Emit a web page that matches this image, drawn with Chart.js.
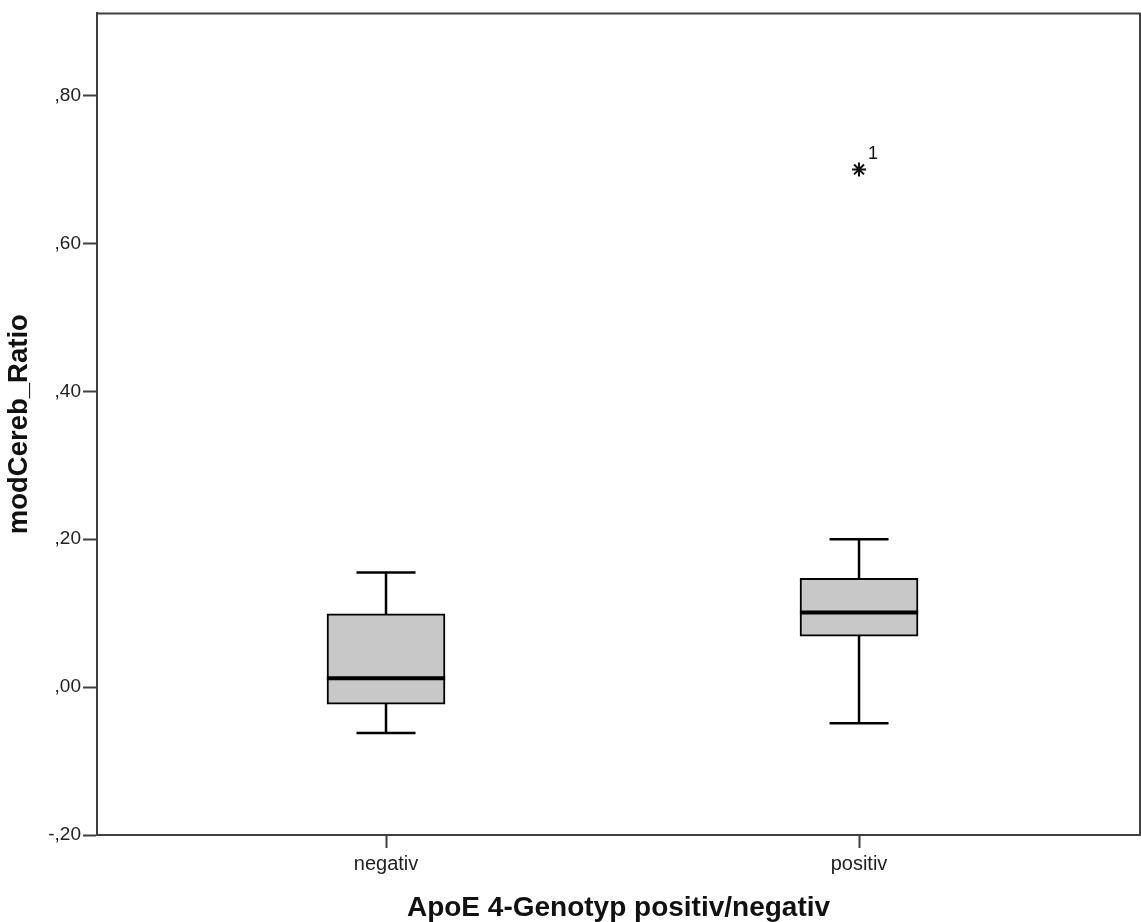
<!DOCTYPE html>
<html>
<head>
<meta charset="utf-8">
<title>modCereb_Ratio nach ApoE 4-Genotyp</title>
<script src="https://cdn.jsdelivr.net/npm/chart.js@4.4.1/dist/chart.umd.min.js"></script>
<style>
  html, body { margin: 0; padding: 0; background: #ffffff; }
  #wrap { width: 1141px; height: 922px; }
</style>
</head>
<body>
<div id="wrap"><canvas id="chart" width="1141" height="922"></canvas></div>
<script>
// Five-number summaries per genotype group
const categories  = ['negativ', 'positiv'];
const whiskerLow  = [-0.062, -0.049];
const quartile1   = [-0.023,  0.069];
const medians     = [ 0.012,  0.101];
const quartile3   = [ 0.099,  0.147];
const whiskerHigh = [ 0.155,  0.200];

// Extreme values (group index, value, case number)
const extremeGroup = [1];
const extremeValue = [0.70];
const extremeCase  = ['1'];

const yTickValues = [-0.2, 0, 0.2, 0.4, 0.6, 0.8];

const BOX_HALF = 0.125;   // half box width in category units
const CAP_HALF = 0.0624;  // half whisker-cap width in category units

// Whisker stems and caps as one broken line (null y breaks the path)
const whiskerPoints = [];
categories.forEach((c, i) => {
  whiskerPoints.push(
    { x: i, y: quartile3[i] }, { x: i, y: whiskerHigh[i] }, { x: i, y: null },
    { x: i - CAP_HALF, y: whiskerHigh[i] }, { x: i + CAP_HALF, y: whiskerHigh[i] }, { x: i, y: null },
    { x: i, y: quartile1[i] }, { x: i, y: whiskerLow[i] }, { x: i, y: null },
    { x: i - CAP_HALF, y: whiskerLow[i] }, { x: i + CAP_HALF, y: whiskerLow[i] }, { x: i, y: null }
  );
});

const medianPoints = [];
categories.forEach((c, i) => {
  medianPoints.push(
    { x: i - BOX_HALF, y: medians[i] }, { x: i + BOX_HALF, y: medians[i] }, { x: i, y: null }
  );
});

const boxData = categories.map((c, i) => ({ x: i, y: [quartile1[i], quartile3[i]] }));
const extremeData = extremeGroup.map((g, i) => ({ x: g, y: extremeValue[i] }));

// Comma decimal style without leading zero: ,80  ,00  -,20
function fmtTick(v) {
  const s = Math.abs(v).toFixed(2).replace(/^0\./, ',');
  return (v < -1e-9 ? '-' : '') + s;
}

const framePlugin = {
  id: 'frameAndCases',
  afterDatasetsDraw(chart) {
    const { ctx, chartArea: { left, top, right, bottom } } = chart;
    ctx.save();
    ctx.strokeStyle = '#404040';
    ctx.lineWidth = 2;
    ctx.beginPath();
    ctx.moveTo(left, top);
    ctx.lineTo(right, top);
    ctx.lineTo(right, bottom);
    ctx.stroke();

    const meta = chart.getDatasetMeta(3);
    ctx.fillStyle = '#111111';
    ctx.font = '18px "Liberation Sans", Arial, sans-serif';
    ctx.textAlign = 'center';
    ctx.textBaseline = 'middle';
    meta.data.forEach((pt, i) => {
      ctx.fillText(extremeCase[i], pt.x + 14, pt.y - 15);
    });
    ctx.restore();
  }
};

new Chart(document.getElementById('chart'), {
  type: 'scatter',
  data: {
    datasets: [
      {
        type: 'bar',
        data: boxData,
        backgroundColor: '#c8c8c8',
        borderColor: '#000000',
        borderWidth: 2,
        borderSkipped: false,
        barThickness: 118,
        grouped: false,
        order: 3
      },
      {
        type: 'line',
        data: whiskerPoints,
        borderColor: '#000000',
        borderWidth: 2.5,
        borderCapStyle: 'butt',
        pointRadius: 0,
        spanGaps: false,
        tension: 0,
        order: 2
      },
      {
        type: 'line',
        data: medianPoints,
        borderColor: '#000000',
        borderWidth: 4,
        borderCapStyle: 'butt',
        pointRadius: 0,
        spanGaps: false,
        tension: 0,
        order: 1
      },
      {
        type: 'scatter',
        data: extremeData,
        pointStyle: 'star',
        radius: 7,
        borderColor: '#111111',
        borderWidth: 2,
        backgroundColor: '#111111',
        order: 0
      }
    ]
  },
  options: {
    responsive: false,
    animation: false,
    layout: { autoPadding: false, padding: { top: 12, right: 1, left: 0, bottom: 0 } },
    plugins: {
      legend: { display: false },
      tooltip: { enabled: false }
    },
    scales: {
      x: {
        type: 'linear',
        min: -0.611,
        max: 1.594,
        offset: false,
        afterBuildTicks: (scale) => { scale.ticks = categories.map((c, i) => ({ value: i })); },
        afterFit: (scale) => { scale.height = 87; scale.paddingLeft = 0; scale.paddingRight = 0; },
        grid: {
          display: true,
          offset: false,
          drawOnChartArea: false,
          drawTicks: true,
          tickLength: 13,
          tickWidth: 2,
          tickColor: '#404040'
        },
        border: { display: true, color: '#404040', width: 2 },
        ticks: {
          padding: 4,
          color: '#222222',
          font: { family: '"Liberation Sans", Arial, sans-serif', size: 20 },
          maxRotation: 0,
          autoSkip: false,
          callback: (v) => categories[v] ?? ''
        },
        title: {
          display: true,
          text: 'ApoE 4-Genotyp positiv/negativ',
          color: '#111111',
          font: { family: '"Liberation Sans", Arial, sans-serif', size: 28, weight: 'bold', lineHeight: 1 },
          padding: { top: 0, bottom: 0 }
        }
      },
      y: {
        type: 'linear',
        min: -0.2,
        max: 0.911,
        afterBuildTicks: (scale) => { scale.ticks = yTickValues.map(v => ({ value: v })); },
        afterFit: (scale) => { scale.width = 97; },
        grid: {
          display: true,
          drawOnChartArea: false,
          drawTicks: true,
          tickLength: 14,
          tickWidth: 2,
          tickColor: '#404040'
        },
        border: { display: true, color: '#404040', width: 2 },
        ticks: {
          padding: 2,
          color: '#222222',
          font: { family: '"Liberation Sans", Arial, sans-serif', size: 19 },
          callback: (v) => fmtTick(v)
        },
        title: {
          display: true,
          text: 'modCereb_Ratio',
          color: '#111111',
          font: { family: '"Liberation Sans", Arial, sans-serif', size: 27.5, weight: 'bold', lineHeight: 1 },
          padding: { top: 6, bottom: 0 }
        }
      }
    }
  },
  plugins: [framePlugin]
});
</script>
</body>
</html>
